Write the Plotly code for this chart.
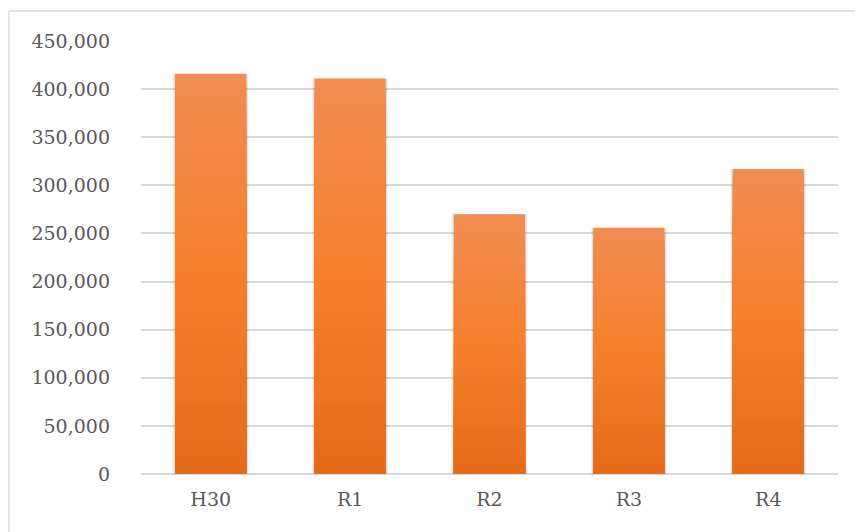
import plotly.graph_objects as go

categories = ["H30", "R1", "R2", "R3", "R4"]
values = [416000, 411000, 270000, 256000, 317000]
tick_vals = [0, 50000, 100000, 150000, 200000, 250000, 300000, 350000, 400000, 450000]
tick_text = ["0", "50,000", "100,000", "150,000", "200,000", "250,000",
             "300,000", "350,000", "400,000", "450,000"]

stops = [(0.0, (241, 140, 82)), (0.5, (245, 128, 44)), (1.0, (229, 107, 27))]
N = 40
BAR_W = 0.51


def grad(t):
    for (t0, c0), (t1, c1) in zip(stops[:-1], stops[1:]):
        if t <= t1:
            u = (t - t0) / (t1 - t0)
            return tuple(round(c0[i] + (c1[i] - c0[i]) * u) for i in range(3))
    return stops[-1][1]


fig = go.Figure()

# soft shadow
for w, a in [(0.545, 0.05), (0.53, 0.08)]:
    fig.add_trace(go.Bar(x=categories, y=values, width=w,
                         marker=dict(color=f"rgba(0,0,0,{a})", line=dict(width=0)),
                         hoverinfo="skip", showlegend=False))

for k in range(N):
    c = grad(k / (N - 1))
    frac = 1 - k / N
    fig.add_trace(go.Bar(x=categories, y=[v * frac for v in values], width=BAR_W,
                         marker=dict(color=f"rgb{c}", line=dict(width=0)),
                         hoverinfo="skip", showlegend=False))

font = dict(family="DejaVu Serif", size=19, color="#595959")

fig.update_layout(
    width=855, height=532,
    margin=dict(l=141, r=17, t=41, b=58),
    barmode="overlay",
    plot_bgcolor="white", paper_bgcolor="white",
    font=font,
    showlegend=False,
    xaxis=dict(showgrid=False, showline=False, ticks="", tickfont=font,
               ticklabelstandoff=12),
    yaxis=dict(range=[0, 450000], tickvals=tick_vals, ticktext=tick_text,
               showgrid=True, gridcolor="#d9d9d9", gridwidth=1.5,
               zeroline=True, zerolinecolor="#d9d9d9", zerolinewidth=1.5,
               showline=False, ticks="", tickfont=font, ticklabelstandoff=30),
    shapes=[dict(type="rect", xref="paper", yref="paper",
                 x0=(9 - 141) / 697, x1=(858 - 141) / 697,
                 y0=(474 - 535) / 433, y1=(474 - 11) / 433,
                 line=dict(color="#d9d9d9", width=1.3), layer="below")],
)

fig.write_html("out.html")
